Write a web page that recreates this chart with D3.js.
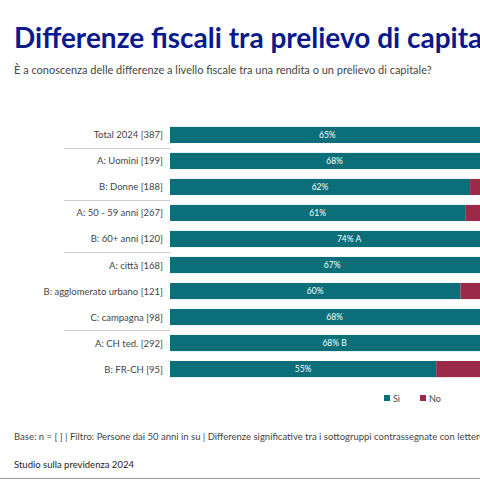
<!DOCTYPE html>
<html><head><meta charset="utf-8">
<script src="https://cdn.jsdelivr.net/npm/d3@7"></script>
<style>body{margin:0;background:#fff;overflow:hidden}text{font-family:"Source Sans Pro",Lato,sans-serif}</style>
</head><body><svg width="480" height="480"></svg>
<script>
var categories = ['Total 2024 [387]', 'A: Uomini [199]', 'B: Donne [188]', 'A: 50 - 59 anni [267]', 'B: 60+ anni [120]',
    'A: città [168]', 'B: agglomerato urbano [121]', 'C: campagna [98]', 'A: CH ted. [292]', 'B: FR-CH [95]'];
var si = [65, 68, 62, 61, 74, 67, 60, 68, 68, 55];
var siLabels = ['65%', '68%', '62%', '61%', '74% A', '67%', '60%', '68%', '68% B', '55%'];
var no = [35, 32, 38, 39, 26, 33, 40, 32, 32, 45];
var groupEnds = [0, 2, 4, 7];

var svg = d3.select('svg');
var teal = '#0b6e78', red = '#9a2a47';

svg.append('text').attr('x', 14).attr('y', 48).attr('font-size', 28).attr('font-weight', 700)
    .attr('fill', '#0a1a8c').text('Differenze fiscali tra prelievo di capitale e rendita');
svg.append('text').attr('x', 14).attr('y', 74).attr('font-size', 11).attr('fill', '#444')
    .text('È a conoscenza delle differenze a livello fiscale tra una rendita o un prelievo di capitale?');

var x = d3.scaleLinear().domain([0, 100]).range([170, 654]);
var y = d3.scaleBand().domain(categories).range([117, 387]).padding(0.38);

var row = svg.append('g').selectAll('g').data(categories).enter().append('g');
row.append('rect').attr('x', x(0)).attr('y', function (d) { return y(d); })
    .attr('width', function (d, i) { return x(si[i]) - x(0); }).attr('height', y.bandwidth()).attr('fill', teal);
row.append('rect').attr('x', function (d, i) { return x(si[i]); }).attr('y', function (d) { return y(d); })
    .attr('width', function (d, i) { return x(no[i]) - x(0); }).attr('height', y.bandwidth()).attr('fill', red);
row.append('text').attr('x', function (d, i) { return (x(0) + x(si[i])) / 2; })
    .attr('y', function (d) { return y(d) + y.bandwidth() / 2 + 3; })
    .attr('text-anchor', 'middle').attr('font-size', 8.5).attr('fill', '#fff')
    .text(function (d, i) { return siLabels[i]; });
row.append('text').attr('x', 163).attr('y', function (d) { return y(d) + y.bandwidth() / 2 + 3.5; })
    .attr('text-anchor', 'end').attr('font-size', 9.5).attr('fill', '#444').text(function (d) { return d; });

groupEnds.forEach(function (i) {
    var yy = y(categories[i]) + y.step() - y.step() * y.paddingInner() / 2 + 0.5;
    svg.append('line').attr('x1', 64).attr('x2', 170).attr('y1', yy).attr('y2', yy).attr('stroke', '#ccc');
});

var legend = [['Sì', teal, 384], ['No', red, 420]];
legend.forEach(function (l) {
    svg.append('rect').attr('x', l[2]).attr('y', 395).attr('width', 6).attr('height', 6).attr('fill', l[1]);
    svg.append('text').attr('x', l[2] + 9).attr('y', 401.5).attr('font-size', 9).attr('fill', '#444').text(l[0]);
});

svg.append('text').attr('x', 14).attr('y', 440).attr('font-size', 9.5).attr('fill', '#444')
    .text('Base: n = [ ] | Filtro: Persone dai 50 anni in su | Differenze significative tra i sottogruppi contrassegnate con lettere maiuscole (p < 0.05)');
svg.append('text').attr('x', 14).attr('y', 468).attr('font-size', 9.5).attr('fill', '#222').text('Studio sulla previdenza 2024');
svg.append('line').attr('x1', 0).attr('x2', 480).attr('y1', 478.5).attr('y2', 478.5).attr('stroke', '#999');
</script></body></html>
